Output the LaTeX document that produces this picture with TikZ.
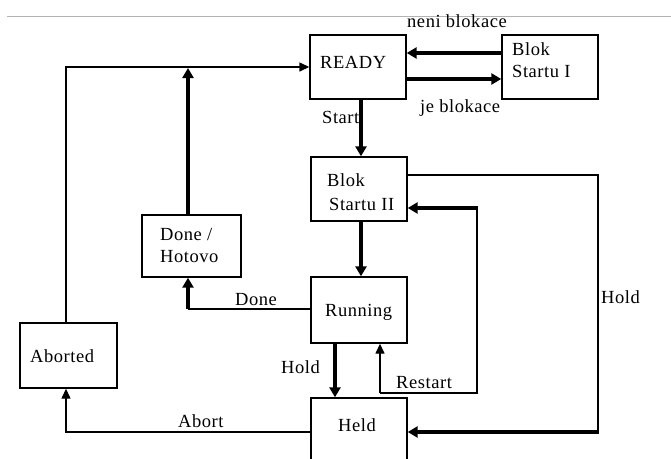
\documentclass[tikz,border=0pt]{standalone}
\usepackage{fontspec}
\setmainfont[LetterSpace=3]{Liberation Serif}
\usetikzlibrary{arrows.meta}
\begin{document}
\begin{tikzpicture}[x=1pt,y=-1pt,
  box/.style={draw, line width=1.4pt, inner sep=0pt},
  thinline/.style={line width=1.4pt},
  thickline/.style={line width=3.5pt},
  tipB/.style={-{Triangle[width=11pt,length=10pt]}},
  tipS/.style={-{Triangle[width=9pt,length=10pt]}},
  lbl/.style={anchor=base west, inner sep=0pt, font=\fontsize{18.5}{21}\selectfont}]
\useasboundingbox (0,0) rectangle (671,458);
\draw[line width=1pt, black!30] (7,16) -- (671,16);
% boxes
\node[box, minimum width=96pt, minimum height=64pt] (ready) at (358,67) {};
\node[box, minimum width=96pt, minimum height=64pt] (blok1) at (550,67) {};
\node[box, minimum width=96pt, minimum height=64pt] (blok2) at (359,189) {};
\node[box, minimum width=96pt, minimum height=66pt] (running) at (359,310) {};
\node[box, minimum width=96pt, minimum height=64pt] (held) at (359,430) {};
\node[box, minimum width=99pt, minimum height=62pt] (done) at (191.5,246) {};
\node[box, minimum width=97pt, minimum height=65pt] (aborted) at (68.5,355.5) {};
% box texts
\node[lbl] (treadv) at (320,68) {READY};
\node[lbl] (tb1a) at (512,55) {Blok};
\node[lbl] (tb1b) at (512,77) {Startu I};
\node[lbl] (tb2a) at (327,186) {Blok};
\node[lbl] (tb2b) at (329,210) {Startu II};
\node[lbl] (tda) at (160,240) {Done /};
\node[lbl] (tdb) at (160,262) {Hotovo};
\node[lbl] (trun) at (325,316) {Running};
\node[lbl] (theld) at (338,431) {Held};
\node[lbl] (tab) at (30,362) {Aborted};
% edge labels
\node[lbl] (lneni) at (407,27) {neni blokace};
\node[lbl] (lje) at (420,112) {je blokace};
\node[lbl] (lstart) at (322,123) {Start};
\node[lbl] (ldone) at (235,305) {Done};
\node[lbl] (labort) at (178,427) {Abort};
\node[lbl] (lhold1) at (281,373) {Hold};
\node[lbl] (lrestart) at (396,388) {Restart};
\node[lbl] (lhold2) at (601,303) {Hold};
% connectors
\draw[thickline, tipB] (blok1.west |- 0,53) -- (ready.east |- 0,53);
\draw[thickline, tipB] (ready.east |- 0,79) -- (blok1.west |- 0,79);
\draw[thickline, tipB] (ready.south -| 361,0) -- (blok2.north -| 361,0);
\draw[thickline, tipB] (blok2.south -| 361,0) -- (running.north -| 361,0);
\coordinate (dcorner) at (188,309);
\draw[thinline] (running.west |- dcorner) -- (dcorner);
\draw[thickline, tipB] (dcorner) -- (done.south -| dcorner);
\draw[thickline, tipB] (done.north -| 188,0) -- (188,68);
\coordinate (acorner) at (66,67);
\draw[thinline, tipS] (aborted.north -| acorner) -- (acorner) -- (ready.west |- acorner);
\coordinate (hcorner) at (66,432);
\draw[thinline, tipS] (held.west |- hcorner) -- (hcorner) -- (aborted.south -| hcorner);
\draw[thickline, tipB] (running.south -| 335,0) -- (held.north -| 335,0);
\draw[thinline, tipS] ([yshift=4pt]held.north -| 380,0) -- (running.south -| 380,0);
\coordinate (ra) at (380,393);
\coordinate (rb) at (477,393);
\coordinate (rc) at (477,208);
\draw[thinline] (ra) -- (rb) -- (rc);
\draw[thickline, tipB] ([xshift=0.6pt]rc) -- (blok2.east |- rc);
\coordinate (ha) at (598,175);
\coordinate (hb) at (598,432);
\draw[thinline] (blok2.east |- ha) -- (ha) -- (hb);
\draw[thickline, tipB] ([xshift=0.6pt]hb) -- (held.east |- hb);
\end{tikzpicture}
\end{document}
